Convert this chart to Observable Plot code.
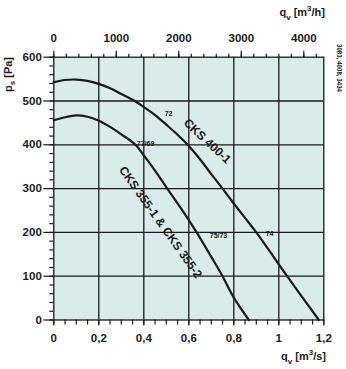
<!DOCTYPE html>
<html><head><meta charset="utf-8">
<script src="https://cdn.jsdelivr.net/npm/d3@7"></script>
<script src="https://cdn.jsdelivr.net/npm/@observablehq/plot@0.6"></script>
<style>body{margin:0;background:#fff} svg{display:block}</style>
</head><body><div id="chart"></div>
<script>
// Curve data (q in m³/s, p in Pa)
const q400 = [0,0.05,0.1,0.15,0.2,0.25,0.3,0.36,0.4,0.45,0.5,0.55,0.595,0.65,0.7,0.75,0.8,0.85,0.9,0.95,1.0,1.037,1.1,1.15,1.178];
const p400 = [543,548,549,546,539,529,516,500,486,468,446,423,400,367,333,300,266,233,200,164,127,100,55,20,0];
const q355 = [0,0.05,0.1,0.15,0.2,0.25,0.3,0.363,0.4,0.45,0.504,0.55,0.6,0.635,0.7,0.75,0.8,0.867];
const p355 = [456,463,467,464,455,441,424,400,376,341,300,266,228,200,144,100,51,0];

// Curve names and their label anchors
const curveNames = ["CKS 400-1", "CKS 355-1 & CKS 355-2"];
const nameQ = [0.682, 0.474];
const nameP = [408, 223];
const nameAngle = [43, 54.5];

// Small number labels
const noteText = ["72", "77/69", "75/73", "74"];
const noteQ = [0.51, 0.408, 0.732, 0.959];
const noteP = [470, 403, 193, 197];

// Ticks
const qMajor = [0, 0.2, 0.4, 0.6, 0.8, 1.0, 1.2];
const qMajorLabels = ["0", "0,2", "0,4", "0,6", "0,8", "1", "1,2"];
const qMinor = d3.range(0, 1.2001, 0.05);
const qhMajor = [0, 1000, 2000, 3000, 4000];
const qhMinor = d3.range(0, 4201, 200);
const pMajor = [0, 100, 200, 300, 400, 500, 600];
const pMinor = d3.range(0, 601, 20);
const gridQ = [0.2, 0.4, 0.6, 0.8, 1.0];
const gridP = [100, 200, 300, 400, 500];

const ink = "#1a1a1a";
const bg = "#d9ecea";

const data400 = q400.map((q, i) => ({q, p: p400[i]}));
const data355 = q355.map((q, i) => ({q, p: p355[i]}));
const notes = noteText.map((t, i) => ({t, q: noteQ[i], p: noteP[i]}));

const plot = Plot.plot({
  width: 346, height: 369,
  marginLeft: 53.3, marginRight: 22.7, marginTop: 56.7, marginBottom: 49.5,
  x: {domain: [0, 1.2]},
  y: {domain: [0, 600]},
  style: {fontFamily: "'Liberation Sans', Arial, sans-serif", fontSize: "11.5px", fontWeight: "bold", color: ink, background: "#fff"},
  marks: [
    Plot.frame({fill: bg}),
    Plot.ruleX(gridQ, {stroke: ink, strokeWidth: 1.3}),
    Plot.ruleY(gridP, {stroke: ink, strokeWidth: 1.3}),
    Plot.line(data400, {x: "q", y: "p", curve: "catmull-rom", stroke: ink, strokeWidth: 2.2}),
    Plot.line(data355, {x: "q", y: "p", curve: "catmull-rom", stroke: ink, strokeWidth: 2.2}),
    Plot.frame({stroke: ink, strokeWidth: 1.3}),
    Plot.text(notes, {x: "q", y: "p", text: "t", fontSize: 7, fontWeight: "bold", fill: ink}),
    Plot.text([curveNames[0]], {x: nameQ[0], y: nameP[0], text: d => d, rotate: nameAngle[0], fontSize: 12, fontWeight: "bold", fill: ink}),
    Plot.text([curveNames[1]], {x: nameQ[1], y: nameP[1], text: d => d, rotate: nameAngle[1], fontSize: 12, fontWeight: "bold", fill: ink}),
    // bottom axis
    Plot.axisX(qMinor, {anchor: "bottom", tickSize: 5, tickFormat: () => "", label: null, strokeWidth: 1.2}),
    Plot.axisX(qMajor, {anchor: "bottom", tickSize: 6, tickPadding: 8, tickFormat: d => qMajorLabels[qMajor.indexOf(d)], label: null, strokeWidth: 1.2}),
    // top axis (m³/h)
    Plot.axisX(qhMinor.map(v => v / 3600), {anchor: "top", tickSize: 4, tickFormat: () => "", label: null, strokeWidth: 1.2}),
    Plot.axisX(qhMajor.map(v => v / 3600), {anchor: "top", tickSize: 7, tickPadding: 8, tickFormat: d => String(Math.round(d * 3600)), label: null, strokeWidth: 1.2}),
    // left axis
    Plot.axisY(pMinor, {anchor: "left", tickSize: 4, tickFormat: () => "", label: null, strokeWidth: 1.2}),
    Plot.axisY(pMajor, {anchor: "left", tickSize: 10, tickPadding: 2, tickFormat: d => String(d), label: null, strokeWidth: 1.2})
  ]
});

const svg = d3.select(plot);
const ff = "'Liberation Sans', Arial, sans-serif";
// Left axis title p_s [Pa]
const yl = svg.append("text").attr("transform", "translate(12,57) rotate(-90)")
  .attr("text-anchor", "end").attr("font-family", ff).attr("font-size", 11).attr("font-weight", "bold").attr("fill", ink);
yl.append("tspan").text("p");
yl.append("tspan").attr("font-size", 8).attr("dy", 3).text("s");
yl.append("tspan").attr("dy", -3).text(" [Pa]");
// Top axis title q_v [m³/h]
const tl = svg.append("text").attr("x", 325).attr("y", 16).attr("text-anchor", "end")
  .attr("font-family", ff).attr("font-size", 11).attr("font-weight", "bold").attr("fill", ink);
tl.append("tspan").text("q");
tl.append("tspan").attr("font-size", 8).attr("dy", 4).text("v");
tl.append("tspan").attr("dy", -4).text(" [m");
tl.append("tspan").attr("font-size", 8).attr("dy", -5).text("3");
tl.append("tspan").attr("dy", 5).text("/h]");
// Bottom axis title q_v [m³/s]
const bl = svg.append("text").attr("x", 326).attr("y", 360).attr("text-anchor", "end")
  .attr("font-family", ff).attr("font-size", 11).attr("font-weight", "bold").attr("fill", ink);
bl.append("tspan").text("q");
bl.append("tspan").attr("font-size", 8).attr("dy", 4).text("v");
bl.append("tspan").attr("dy", -4).text(" [m");
bl.append("tspan").attr("font-size", 8).attr("dy", -5).text("3");
bl.append("tspan").attr("dy", 5).text("/s]");
// Right side note
svg.append("text").attr("transform", "translate(337,68) rotate(90)")
  .attr("font-family", ff).attr("font-size", 7.5).attr("font-weight", "bold").attr("fill", ink)
  .attr("textLength", 48).attr("lengthAdjust", "spacingAndGlyphs")
  .text("3083, 4008, 3434");

document.getElementById("chart").appendChild(plot);
</script>
</body></html>
